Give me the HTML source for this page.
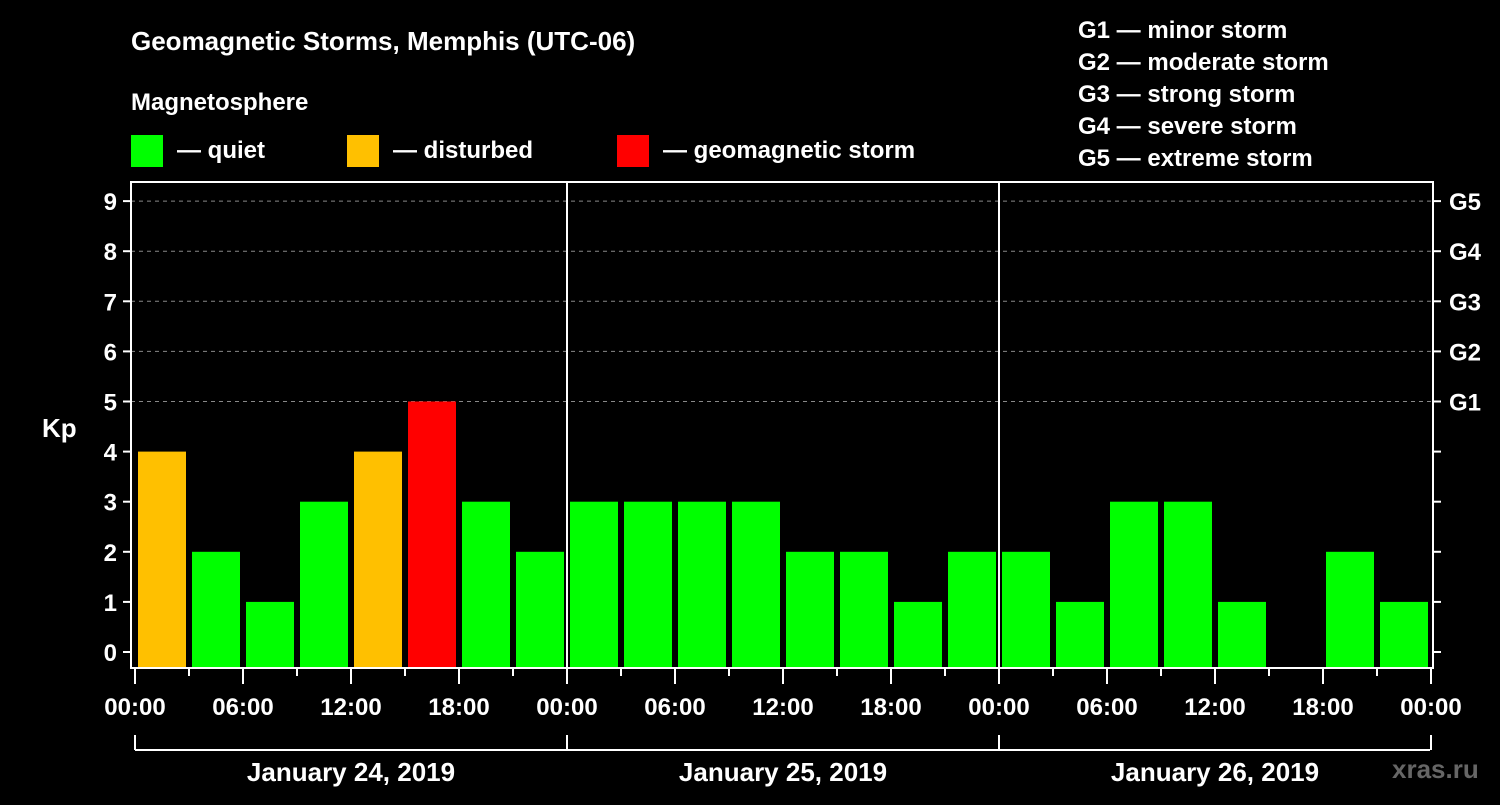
<!DOCTYPE html>
<html><head><meta charset="utf-8"><style>
body{margin:0;background:#000;width:1500px;height:800px;overflow:hidden}
svg text{font-family:"Liberation Sans",sans-serif;font-weight:bold;fill:#fff}
</style></head><body>
<svg id="c" width="1500" height="800">
<text x="131" y="50" font-size="26">Geomagnetic Storms, Memphis (UTC-06)</text>
<text x="131" y="110" font-size="24">Magnetosphere</text>
<rect x="131" y="135" width="32" height="32" fill="#00ff00"/>
<text x="177" y="158" font-size="24">— quiet</text>
<rect x="347" y="135" width="32" height="32" fill="#ffc000"/>
<text x="393" y="158" font-size="24">— disturbed</text>
<rect x="617" y="135" width="32" height="32" fill="#ff0000"/>
<text x="663" y="158" font-size="24">— geomagnetic storm</text>
<g font-size="24">
<text x="1078" y="38">G1 — minor storm</text>
<text x="1078" y="70">G2 — moderate storm</text>
<text x="1078" y="102">G3 — strong storm</text>
<text x="1078" y="134">G4 — severe storm</text>
<text x="1078" y="166">G5 — extreme storm</text>
</g>
<text x="42" y="437" font-size="26">Kp</text>
<text x="1392" y="778" font-size="26" fill="#555" style="fill:#666">xras.ru</text>
<g id="grid"></g><g id="bars"></g><g id="axes"></g>
</svg>
<script>
const kpValues=[4,2,1,3,4,5,3,2, 3,3,3,3,2,2,1,2, 2,1,3,3,1,null,2,1];
const yTicks=[0,1,2,3,4,5,6,7,8,9];
const gLabels=["G1","G2","G3","G4","G5"];
const xTickLabels=["00:00","06:00","12:00","18:00","00:00","06:00","12:00","18:00","00:00","06:00","12:00","18:00","00:00"];
const dayLabels=["January 24, 2019","January 25, 2019","January 26, 2019"];
const NS="http://www.w3.org/2000/svg";
const L=131,R=1433,T=182,B=668;
const xH=h=>135+h*18;
const yV=v=>652-v*50.1;
function mk(tag,attrs,parent,txt){const e=document.createElementNS(NS,tag);for(const k in attrs)e.setAttribute(k,attrs[k]);if(txt!=null)e.textContent=txt;parent.appendChild(e);return e;}
const grid=document.getElementById('grid'),bars=document.getElementById('bars'),axes=document.getElementById('axes');
for(let v=5;v<=9;v++){const g=mk('line',{x1:L,x2:R,y1:yV(v),y2:yV(v),stroke:'#888','stroke-dasharray':'4,4','stroke-width':1},grid);

}
kpValues.forEach((v,i)=>{if(v==null)return;
const c=v>=5?'#ff0000':v==4?'#ffc000':'#00ff00';
const r=mk('rect',{x:xH(i*3)+3,y:yV(v),width:48,height:667-yV(v),fill:c},bars);

});
const fr=mk('rect',{x:L,y:T,width:R-L,height:B-T,fill:'none',stroke:'#fff','stroke-width':2},axes);


[1,2].forEach(d=>{const l=mk('line',{x1:xH(d*24),x2:xH(d*24),y1:T,y2:B,stroke:'#fff','stroke-width':2},axes);

});
yTicks.forEach(v=>{mk('line',{x1:L-8,x2:L,y1:yV(v),y2:yV(v),stroke:'#fff','stroke-width':2},axes);
mk('line',{x1:R,x2:R+8,y1:yV(v),y2:yV(v),stroke:'#fff','stroke-width':2},axes);
const t=mk('text',{x:L-14,y:yV(v)+9,'font-size':24,'text-anchor':'end'},axes,v);

});
gLabels.forEach((g,i)=>{const t=mk('text',{x:R+16,y:yV(5+i)+9,'font-size':24},axes,g);

});
for(let h=0;h<=72;h+=3){const maj=h%6==0;mk('line',{x1:xH(h),x2:xH(h),y1:B,y2:B+(maj?16:8),stroke:'#fff','stroke-width':2},axes);}
xTickLabels.forEach((s,i)=>{const t=mk('text',{x:xH(i*6),y:715,'font-size':24,'text-anchor':'middle'},axes,s);

});
mk('line',{x1:135,x2:1430,y1:750,y2:750,stroke:'#fff','stroke-width':2},axes);
for(let d=0;d<=3;d++)mk('line',{x1:xH(d*24),x2:xH(d*24),y1:735,y2:750,stroke:'#fff','stroke-width':2},axes);
dayLabels.forEach((s,i)=>{const t=mk('text',{x:xH(i*24+12),y:781,'font-size':26,'text-anchor':'middle'},axes,s);

});
</script>
</body></html>
